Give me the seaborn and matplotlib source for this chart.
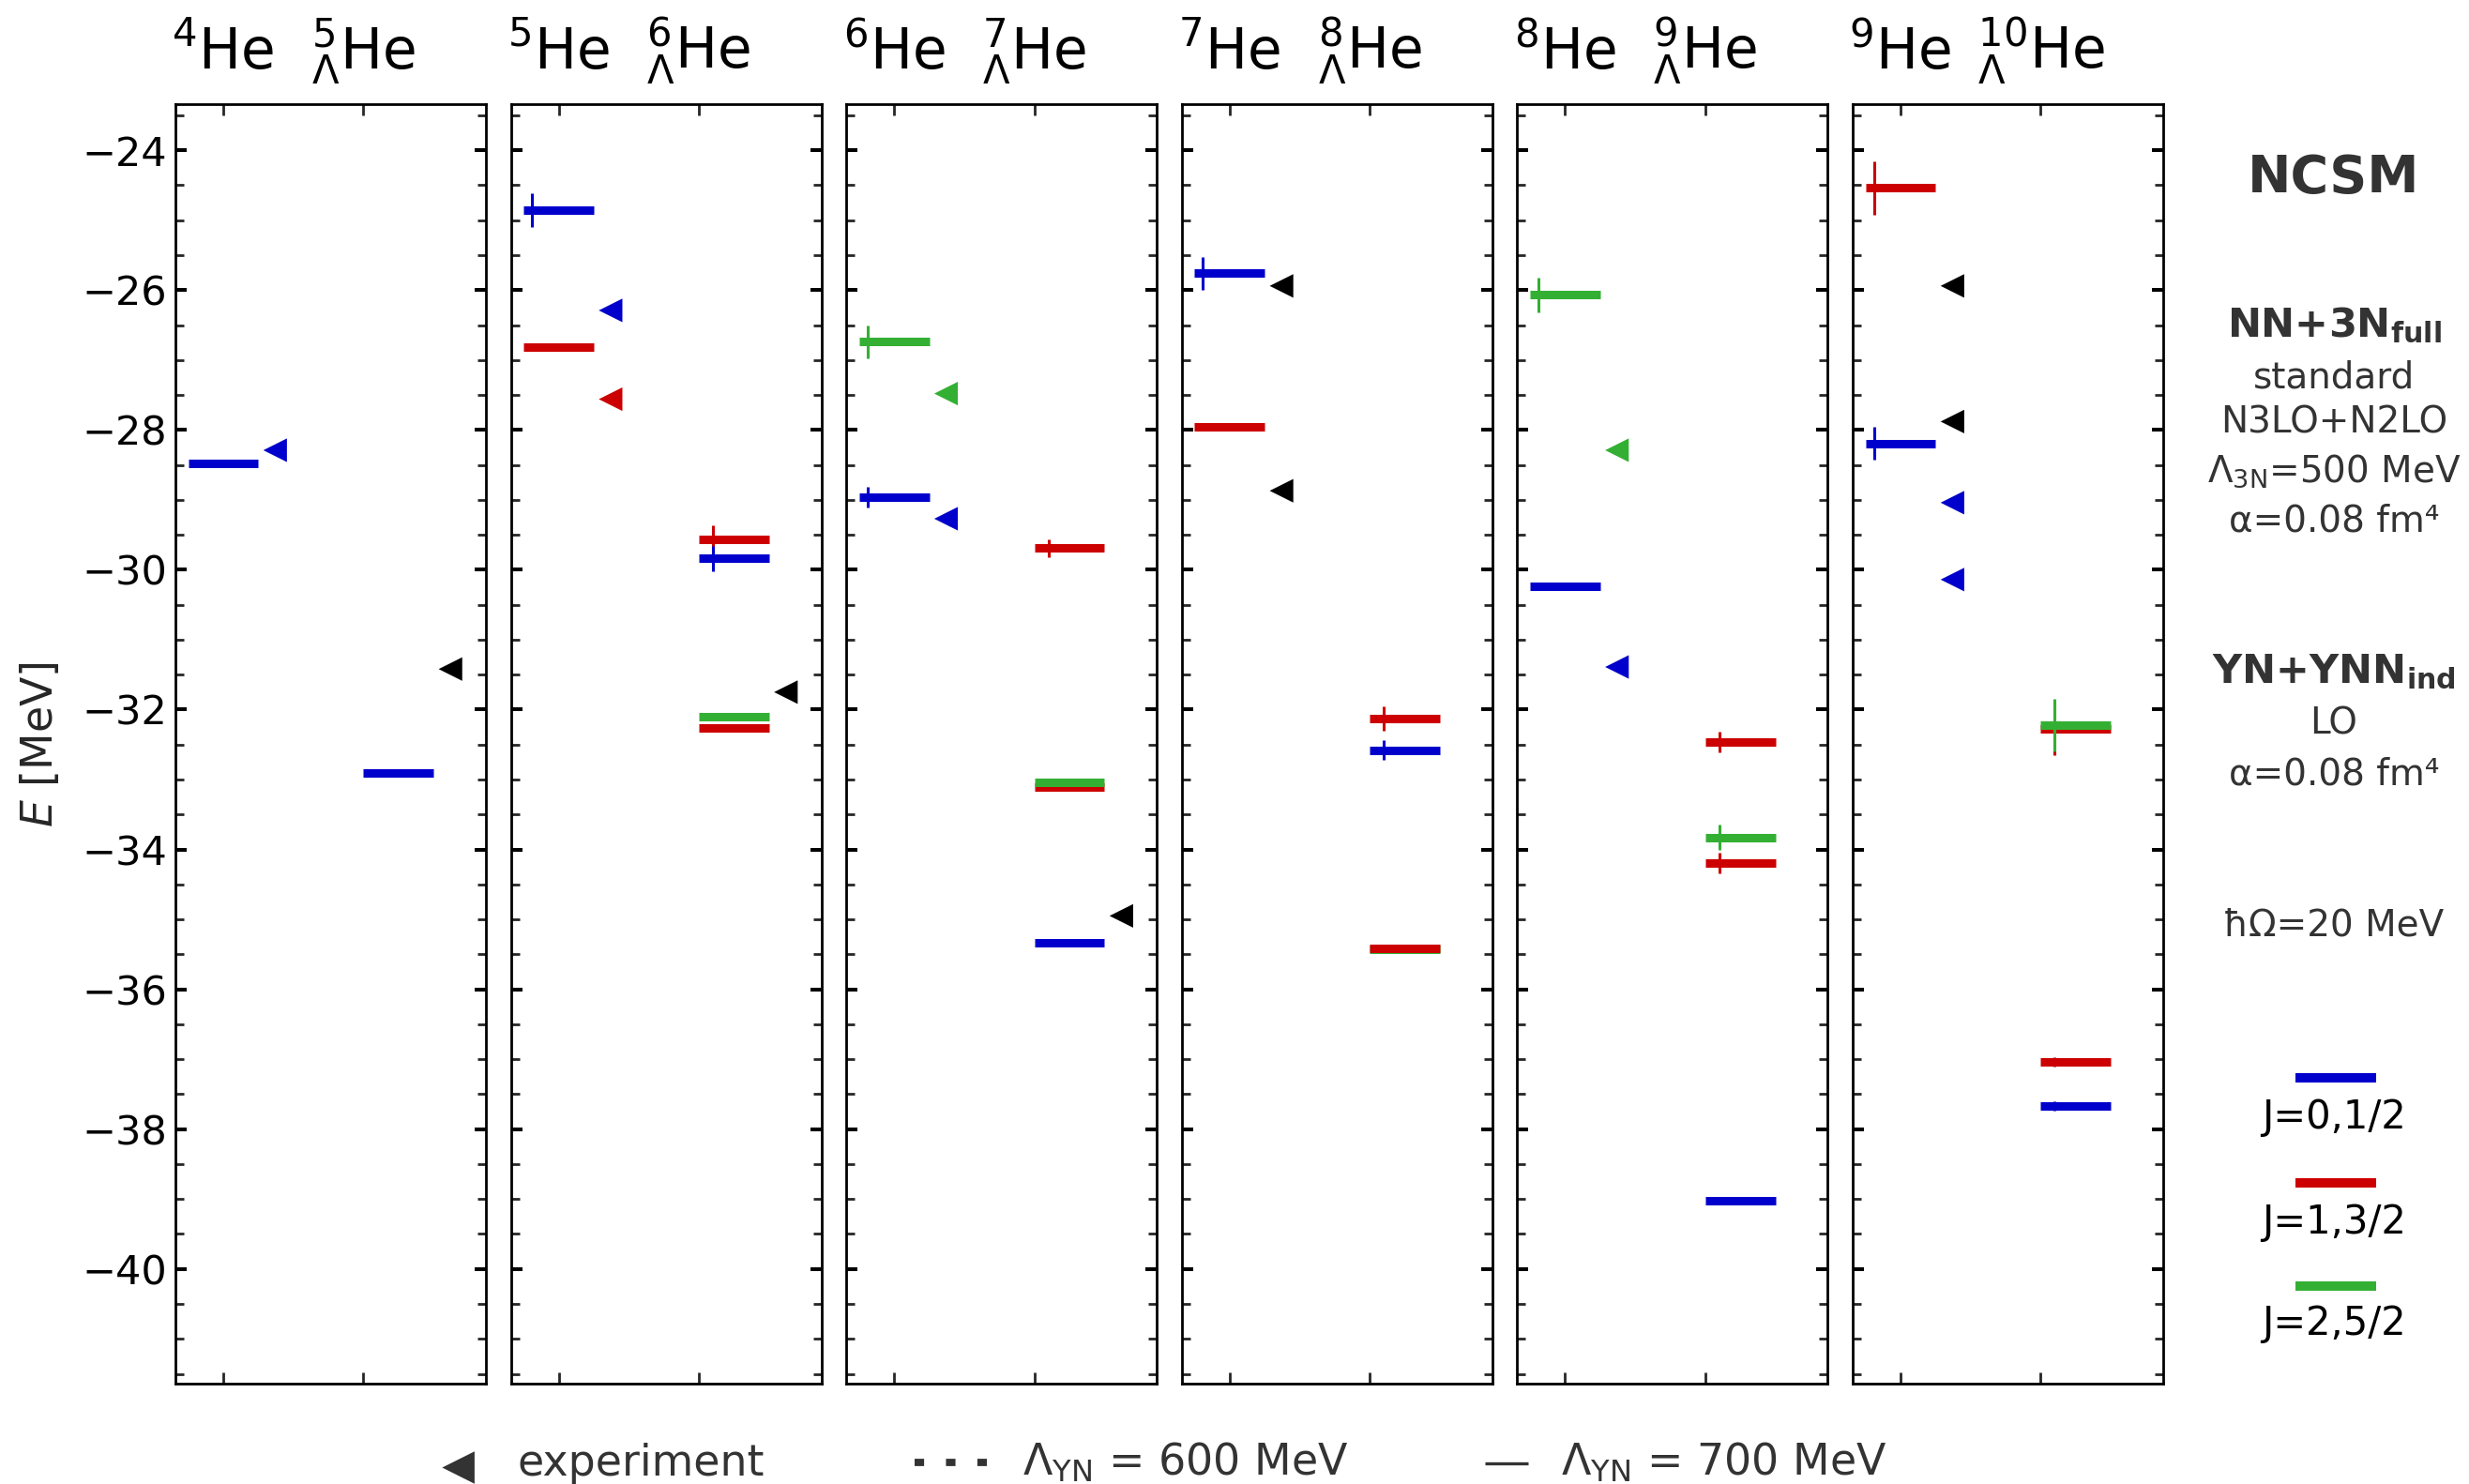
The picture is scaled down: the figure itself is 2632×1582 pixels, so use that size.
import numpy as np
import pandas as pd
import matplotlib
matplotlib.use("Agg")
import matplotlib.pyplot as plt
import seaborn as sns
from matplotlib.lines import Line2D
from matplotlib.ticker import MultipleLocator

# ---------------- data ----------------
core_mass = ["4", "5", "6", "7", "8", "9"]
hyper_mass = ["5", "6", "7", "8", "9", "10"]

# calculated levels: panel, column (0 = core nucleus, 1 = hypernucleus), J class, energy [MeV], uncertainty [MeV]
lev_panel = [0, 0,
             1, 1, 1, 1, 1, 1,
             2, 2, 2, 2, 2, 2,
             3, 3, 3, 3, 3, 3,
             4, 4, 4, 4, 4, 4,
             5, 5, 5, 5, 5, 5]
lev_col = [0, 1,
           0, 0, 1, 1, 1, 1,
           0, 0, 1, 1, 1, 1,
           0, 0, 1, 1, 1, 1,
           0, 0, 1, 1, 1, 1,
           0, 0, 1, 1, 1, 1]
lev_J = [0, 0,
         0, 1, 1, 0, 2, 1,
         2, 0, 1, 1, 2, 0,
         0, 1, 1, 0, 2, 1,
         2, 0, 1, 2, 1, 0,
         1, 0, 1, 2, 1, 0]
lev_E = [-28.48, -32.91,
         -24.86, -26.82, -29.56, -29.84, -32.10, -32.26,
         -26.74, -28.96, -29.69, -33.11, -33.04, -35.33,
         -25.76, -27.96, -32.13, -32.58, -35.43, -35.41,
         -26.07, -30.23, -32.46, -33.83, -34.19, -39.02,
         -24.54, -28.19, -32.27, -32.22, -37.04, -37.67]
lev_err = [0.0, 0.0,
           0.24, 0.04, 0.19, 0.18, 0.0, 0.0,
           0.23, 0.15, 0.13, 0.03, 0.0, 0.0,
           0.23, 0.05, 0.17, 0.14, 0.04, 0.0,
           0.25, 0.05, 0.15, 0.18, 0.15, 0.0,
           0.38, 0.23, 0.38, 0.38, 0.07, 0.07]

# experimental values: panel, column, J class (-1 = unassigned), energy
exp_panel = [0, 0, 1, 1, 1, 2, 2, 2, 3, 3, 4, 4, 5, 5, 5, 5]
exp_col = [0, 1, 0, 0, 1, 0, 0, 1, 0, 0, 0, 0, 0, 0, 0, 0]
exp_J = [0, -1, 0, 1, -1, 2, 0, -1, -1, -1, 2, 0, -1, -1, 0, 0]
exp_E = [-28.29, -31.42, -26.29, -27.56, -31.75, -27.48, -29.27, -34.95,
         -25.94, -28.87, -28.29, -31.39, -25.94, -27.88, -29.04, -30.14]

J_labels = ["J=0,1/2", "J=1,3/2", "J=2,5/2"]
right_notes = ["standard", "N3LO+N2LO", r"Λ$_\mathregular{3N}$=500 MeV", "α=0.08 fm⁴"]

# ---------------- style ----------------
sns.set_theme(style="ticks")
plt.rcParams["font.family"] = ["DejaVu Sans"]
plt.rcParams["mathtext.fontset"] = "dejavusans"
plt.rcParams["axes.linewidth"] = 1.0
plt.rcParams["axes.edgecolor"] = "black"

J_colors = {0: "#0000cc", 1: "#cc0000", 2: "#33b033", -1: "#000000"}
GRAY = "#333333"

lev = pd.DataFrame(dict(panel=lev_panel, col=lev_col, J=lev_J, E=lev_E, err=lev_err))
exp = pd.DataFrame(dict(panel=exp_panel, col=exp_col, J=exp_J, E=exp_E))
exp["hue"] = exp["J"].map({0: "J0", 1: "J1", 2: "J2", -1: "exp"})
exp_palette = {"J0": J_colors[0], "J1": J_colors[1], "J2": J_colors[2], "exp": J_colors[-1]}

col_start = [0.75, 2.0]
col_exp_x = [1.37, 2.62]
err_off = [0.06, 0.10]

fig, axes = plt.subplots(1, 6, sharey=True, figsize=(13.16, 7.91), dpi=200)
fig.subplots_adjust(left=0.07105, right=0.87614, bottom=0.06764, top=0.92983, wspace=0.0804)

for p, ax in enumerate(axes):
    sub = lev[lev.panel == p]
    for _, r in sub.iterrows():
        x0 = col_start[int(r.col)]
        c = J_colors[int(r.J)]
        ax.hlines(r.E, x0, x0 + 0.5, color=c, lw=3.25, capstyle="butt", zorder=3)
        if r.err > 0:
            ax.vlines(x0 + err_off[int(r.col)], r.E - r.err, r.E + r.err, color=c, lw=1.1, zorder=3)
    es = exp[exp.panel == p].copy()
    es["x"] = [col_exp_x[c] for c in es.col]
    sns.scatterplot(data=es, x="x", y="E", hue="hue", palette=exp_palette, marker="<",
                    s=82, linewidth=0, legend=False, ax=ax, zorder=4)

    ax.set_xlim(0.659, 2.873)
    ax.set_ylim(-41.64, -23.34)
    ax.set_xticks([1, 2])
    ax.set_xticklabels([])
    ax.set_xlabel("")
    ax.set_ylabel("")
    ax.yaxis.set_major_locator(MultipleLocator(2))
    ax.yaxis.set_minor_locator(MultipleLocator(0.5))
    ax.tick_params(axis="x", which="major", direction="in", top=True, bottom=True,
                   length=4.3, width=1.0, labelbottom=False)
    ax.tick_params(axis="y", which="major", direction="in", left=True, right=True,
                   length=4.2, width=1.45, labelsize=15.5, pad=3.2, colors="black")
    ax.tick_params(axis="y", which="minor", direction="in", left=True, right=True,
                   length=3.2, width=1.0)
    if p > 0:
        ax.tick_params(axis="y", which="both", labelleft=False)
    for s in ax.spines.values():
        s.set_visible(True)
        s.set_linewidth(1.0)
        s.set_color("black")

    tr = matplotlib.transforms.blended_transform_factory(ax.transData, ax.transAxes)
    ax.text(1.0, 1.0273, r"${}^{%s}\mathrm{He}$" % core_mass[p], transform=tr,
            ha="center", va="baseline", fontsize=21.5, color="black")
    ax.text(2.0, 1.0273, r"${}^{%s}_{\Lambda}\mathrm{He}$" % hyper_mass[p], transform=tr,
            ha="center", va="baseline", fontsize=21.5, color="black")

fig.text(43 / 2632, 0.4985, r"$E$ [MeV]", rotation=90, ha="center", va="center", fontsize=16.5)

# right-side annotations
xr = 2488 / 2632
fig.text(xr, 0.8707, "NCSM", ha="center", va="baseline", fontsize=20, fontweight="bold", color=GRAY)
fig.text(xr, 0.7728, r"NN+3N$_\mathbf{full}$", ha="center", va="baseline", fontsize=15.5,
         fontweight="bold", color=GRAY)
for txt, yb in zip(right_notes, [0.7384, 0.7085, 0.6752, 0.6416]):
    fig.text(xr, yb, txt, ha="center", va="baseline", fontsize=14, color=GRAY)
fig.text(xr, 0.5395, r"YN+YNN$_\mathbf{ind}$", ha="center", va="baseline", fontsize=15.5,
         fontweight="bold", color=GRAY)
fig.text(xr, 0.5054, "LO", ha="center", va="baseline", fontsize=14, color=GRAY)
fig.text(xr, 0.4711, "α=0.08 fm⁴", ha="center", va="baseline", fontsize=14, color=GRAY)
fig.text(xr, 0.3695, "ħΩ=20 MeV", ha="center", va="baseline", fontsize=14, color=GRAY)

# J legend
for j, (yl, yt) in enumerate(zip([0.2735, 0.2027, 0.1336], [0.2397, 0.1690, 0.1003])):
    fig.add_artist(Line2D([2447 / 2632, 2533 / 2632], [yl, yl], color=J_colors[j], lw=3.6,
                          solid_capstyle="butt", transform=fig.transFigure))
    fig.text(xr, yt, J_labels[j], ha="center", va="baseline", fontsize=15, color="black")

# bottom legend
fig.add_artist(Line2D([489 / 2632], [0.0114], marker="<", markersize=11, color=GRAY, lw=0,
                      transform=fig.transFigure))
fig.text(551 / 2632, 0.0058, "experiment", ha="left", va="baseline", fontsize=16.5, color=GRAY)
fig.add_artist(Line2D([975 / 2632, 1052 / 2632], [0.0145, 0.0145], color=GRAY, lw=2.8,
                      linestyle=(0, (1.3, 3.0)), dash_capstyle="butt", transform=fig.transFigure))
fig.text(1089.5 / 2632, 0.0058, r"Λ$_\mathregular{YN}$ = 600 MeV", ha="left", va="baseline",
         fontsize=16.5, color=GRAY)
fig.add_artist(Line2D([1583 / 2632, 1629 / 2632], [0.0141, 0.0141], color=GRAY, lw=1.2,
                      solid_capstyle="butt", transform=fig.transFigure))
fig.text(1663.6 / 2632, 0.0058, r"Λ$_\mathregular{YN}$ = 700 MeV", ha="left", va="baseline",
         fontsize=16.5, color=GRAY)

fig.savefig("out.png", dpi=200)
